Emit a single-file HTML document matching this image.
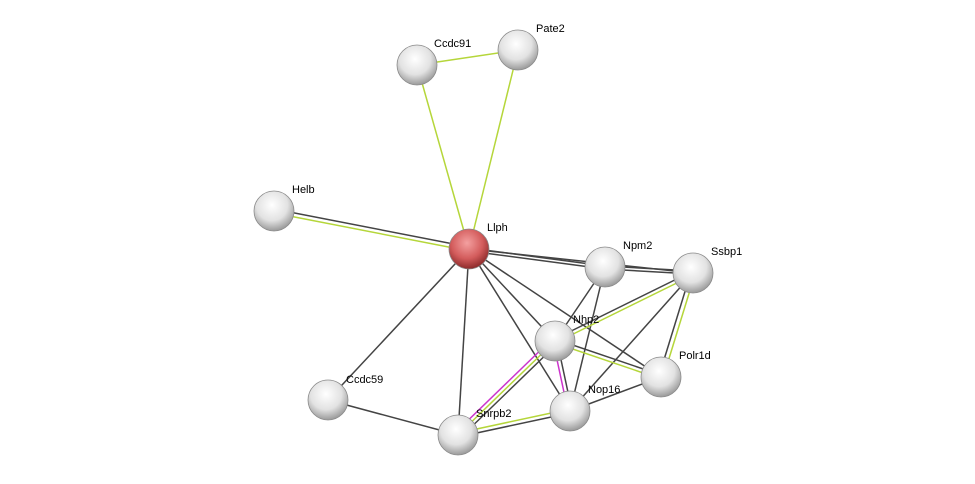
<!DOCTYPE html>
<html><head><style>
html,body{margin:0;padding:0;background:#fff;}
svg text{font-family:"Liberation Sans",sans-serif;font-size:11px;fill:#000;}
</style></head><body>
<svg width="975" height="479" viewBox="0 0 975 479" xmlns="http://www.w3.org/2000/svg">
<defs>
<radialGradient id="g" cx="45%" cy="35%" r="65%">
<stop offset="0" stop-color="#ffffff"/><stop offset="0.6" stop-color="#e2e2e2"/><stop offset="1" stop-color="#9a9a9a"/>
</radialGradient>
<radialGradient id="r" cx="45%" cy="35%" r="65%">
<stop offset="0" stop-color="#f4a0a0"/><stop offset="0.6" stop-color="#d35c5c"/><stop offset="1" stop-color="#8c2a2a"/>
</radialGradient>
</defs>
<g stroke-width="1.5" fill="none">
<line x1="417" y1="65" x2="518" y2="50" stroke="#b5d63a"/>
<line x1="417" y1="65" x2="469" y2="249" stroke="#b5d63a"/>
<line x1="518" y1="50" x2="469" y2="249" stroke="#b5d63a"/>
<line x1="274" y1="209" x2="469" y2="247" stroke="#444"/>
<line x1="274" y1="213" x2="469" y2="251" stroke="#b5d63a"/>
<line x1="469" y1="248" x2="605" y2="266" stroke="#444"/>
<line x1="469" y1="251" x2="605" y2="269" stroke="#444"/>
<line x1="469" y1="249" x2="693" y2="273" stroke="#444"/>
<line x1="469" y1="249" x2="661" y2="377" stroke="#444"/>
<line x1="469" y1="249" x2="555" y2="341" stroke="#444"/>
<line x1="469" y1="249" x2="570" y2="411" stroke="#444"/>
<line x1="469" y1="249" x2="458" y2="435" stroke="#444"/>
<line x1="469" y1="249" x2="328" y2="400" stroke="#444"/>
<line x1="328" y1="400" x2="458" y2="435" stroke="#444"/>
<line x1="605" y1="266" x2="693" y2="271" stroke="#444"/>
<line x1="605" y1="269" x2="693" y2="274" stroke="#444"/>
<line x1="605" y1="267" x2="555" y2="341" stroke="#444"/>
<line x1="605" y1="267" x2="570" y2="411" stroke="#444"/>
<line x1="693" y1="273" x2="570" y2="411" stroke="#444"/>
<line x1="691" y1="272" x2="659" y2="376" stroke="#444"/>
<line x1="695" y1="274" x2="663" y2="378" stroke="#b5d63a"/>
<line x1="693" y1="271" x2="555" y2="339" stroke="#444"/>
<line x1="693" y1="275" x2="555" y2="343" stroke="#b5d63a"/>
<line x1="555" y1="339" x2="661" y2="375" stroke="#444"/>
<line x1="555" y1="343" x2="661" y2="379" stroke="#b5d63a"/>
<line x1="570" y1="411" x2="661" y2="377" stroke="#444"/>
<line x1="553" y1="341" x2="568" y2="411" stroke="#cc33cc"/>
<line x1="557" y1="341" x2="572" y2="411" stroke="#444"/>
<line x1="552" y1="339" x2="455" y2="433" stroke="#cc33cc"/>
<line x1="555" y1="341" x2="458" y2="435" stroke="#b5d63a"/>
<line x1="558" y1="343" x2="461" y2="437" stroke="#444"/>
<line x1="458" y1="433" x2="570" y2="409" stroke="#b5d63a"/>
<line x1="458" y1="437" x2="570" y2="413" stroke="#444"/>
</g>
<g stroke="#8a8a8a" stroke-width="0.8">
<circle cx="417" cy="65" r="20" fill="url(#g)"/>
<circle cx="518" cy="50" r="20" fill="url(#g)"/>
<circle cx="274" cy="211" r="20" fill="url(#g)"/>
<circle cx="469" cy="249" r="20" fill="url(#r)"/>
<circle cx="605" cy="267" r="20" fill="url(#g)"/>
<circle cx="693" cy="273" r="20" fill="url(#g)"/>
<circle cx="555" cy="341" r="20" fill="url(#g)"/>
<circle cx="661" cy="377" r="20" fill="url(#g)"/>
<circle cx="328" cy="400" r="20" fill="url(#g)"/>
<circle cx="458" cy="435" r="20" fill="url(#g)"/>
<circle cx="570" cy="411" r="20" fill="url(#g)"/>
</g>
<text x="434" y="47">Ccdc91</text>
<text x="536" y="32">Pate2</text>
<text x="292" y="193">Helb</text>
<text x="487" y="231">Llph</text>
<text x="623" y="249">Npm2</text>
<text x="711" y="255">Ssbp1</text>
<text x="573" y="323">Nhp2</text>
<text x="679" y="359">Polr1d</text>
<text x="346" y="383">Ccdc59</text>
<text x="476" y="417">Snrpb2</text>
<text x="588" y="393">Nop16</text>
</svg>
</body></html>
